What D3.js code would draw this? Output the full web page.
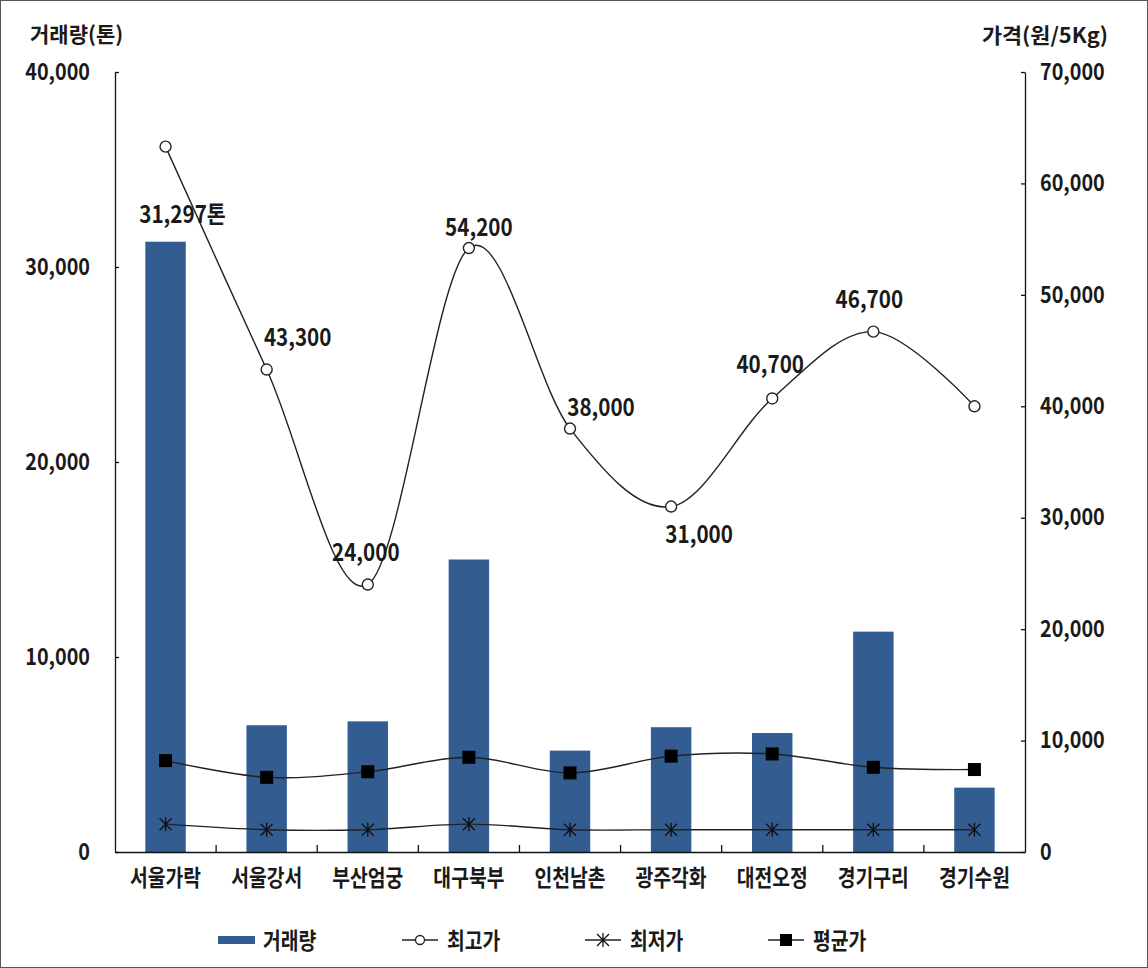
<!DOCTYPE html>
<html><head><meta charset="utf-8">
<script src="https://cdn.jsdelivr.net/npm/d3@7"></script>
<style>
html,body{margin:0;padding:0;background:#fff;}
text{font-family:"Noto Sans CJK KR","Noto Sans",sans-serif;font-weight:700;fill:#1a1a1a;}
</style></head>
<body>
<svg id="chart" width="1148" height="968"></svg>
<script>
// ---- data ----
const categories = ["서울가락","서울강서","부산엄궁","대구북부","인천남촌","광주각화","대전오정","경기구리","경기수원"];
const volume = [31297, 6500, 6700, 15000, 5200, 6400, 6100, 11300, 3300];
const maxPrice = [63300, 43300, 24000, 54200, 38000, 31000, 40700, 46700, 40000];
const minPrice = [2500, 2000, 2000, 2500, 2000, 2000, 2000, 2000, 2000];
const avgPrice = [8200, 6700, 7200, 8500, 7100, 8600, 8800, 7600, 7400];
const maxLabelShown = [false, true, true, true, true, true, true, true, false];
const volumeTicks = [0, 10000, 20000, 30000, 40000];
const priceTicks = [0, 10000, 20000, 30000, 40000, 50000, 60000, 70000];
const leftTitle = "거래량(톤)";
const rightTitle = "가격(원/5Kg)";
const legendNames = ["거래량", "최고가", "최저가", "평균가"];

// ---- layout (not data) ----
const labelNudge = [[0,0],[31,-34],[-2,-34],[10,-23],[31,-23],[28,26],[-2,-36],[-4,-34],[0,0]];
const barColor = "#335c90";

const svg = d3.select("#chart");
const L = 115, R = 1025, T = 72, B = 852;

function condense(sel, sx){
  sel.each(function(){
    const t = d3.select(this);
    const x = +t.attr("x") || 0, y = +t.attr("y") || 0;
    t.attr("x", null).attr("y", null)
     .attr("transform", `translate(${x},${y}) scale(${sx},1)`);
  });
}

svg.append("rect").attr("x",0.5).attr("y",0.5).attr("width",1147).attr("height",967)
  .attr("fill","#fff").attr("stroke","#555").attr("stroke-width",1);

const x = d3.scaleBand().domain(categories).range([L, R]).paddingInner(0.6).paddingOuter(0.3);
const yL = d3.scaleLinear().domain([0, 40000]).range([B, T]);
const yR = d3.scaleLinear().domain([0, 70000]).range([B, T]);
const cx = c => x(c) + x.bandwidth()/2;
const fmt = d3.format(",");

// bars
svg.append("g").selectAll("rect").data(categories).join("rect")
  .attr("x", d => x(d)).attr("width", x.bandwidth())
  .attr("y", (d,i) => yL(volume[i])).attr("height", (d,i) => B - yL(volume[i]))
  .attr("fill", barColor);

// axes
const axL = svg.append("g").attr("transform", `translate(${L},0)`)
  .call(d3.axisLeft(yL).tickValues(volumeTicks).tickFormat(fmt).tickSize(-4).tickSizeOuter(0).tickPadding(25));
const axR = svg.append("g").attr("transform", `translate(${R},0)`)
  .call(d3.axisRight(yR).tickValues(priceTicks).tickFormat(fmt).tickSize(-4).tickSizeOuter(0).tickPadding(15));
const axB = svg.append("g").attr("transform", `translate(0,${B})`)
  .call(d3.axisBottom(x).tickSize(0).tickSizeOuter(0));
[axL, axR, axB].forEach(a => {
  a.select(".domain").attr("stroke", "#111").attr("stroke-width", 1.3);
  a.selectAll(".tick line").attr("stroke", "#111").attr("stroke-width", 1.3);
  a.selectAll("text").attr("font-size", 23).attr("fill", "#1a1a1a").attr("font-family", null);
});
axL.selectAll("text").attr("dy", null).attr("y", -3).attr("dominant-baseline", "central");
axR.selectAll("text").attr("dy", null).attr("y", -3).attr("dominant-baseline", "central");
condense(axL.selectAll("text"), 0.86);
condense(axR.selectAll("text"), 0.86);
axB.selectAll("text").attr("dy", null).attr("y", 24).attr("dominant-baseline", "central");
condense(axB.selectAll("text"), 0.84);

// boundary ticks on category axis
const bounds = categories.slice(1).map(c => x(c) - x.step()*x.paddingInner()/2);
svg.append("g").selectAll("line").data(bounds).join("line")
  .attr("x1", d => d).attr("x2", d => d).attr("y1", B).attr("y2", B - 7)
  .attr("stroke", "#111").attr("stroke-width", 1.3);

// axis titles
svg.append("text").attr("x", 30).attr("y", 33).attr("dominant-baseline","central")
  .attr("font-size", 21).text(leftTitle).call(condense, 1.0);
svg.append("text").attr("x", 1108).attr("y", 34).attr("dominant-baseline","central")
  .attr("text-anchor","end").attr("font-size", 21).text(rightTitle).call(condense, 1.04);

// lines
const curve = d3.curveCardinal.tension(0);
function drawLine(vals){
  const line = d3.line().x((d,i) => cx(categories[i])).y(d => yR(d)).curve(curve);
  svg.append("path").datum(vals).attr("d", line)
    .attr("fill","none").attr("stroke","#222").attr("stroke-width",1.4);
}
drawLine(maxPrice);
drawLine(minPrice);
drawLine(avgPrice);

const star = "M0,-7L0,7M-6,-6L6,6M-6,6L6,-6";
// markers
svg.append("g").selectAll("circle").data(maxPrice).join("circle")
  .attr("cx", (d,i) => cx(categories[i])).attr("cy", d => yR(d)).attr("r", 5.5)
  .attr("fill","#fff").attr("stroke","#222").attr("stroke-width",1.4);
svg.append("g").selectAll("path").data(minPrice).join("path")
  .attr("transform", (d,i) => `translate(${cx(categories[i])},${yR(d)})`)
  .attr("d", star).attr("stroke","#111").attr("stroke-width",1.4).attr("fill","none");
svg.append("g").selectAll("rect").data(avgPrice).join("rect")
  .attr("x", (d,i) => cx(categories[i]) - 6.5).attr("y", d => yR(d) - 6.5)
  .attr("width", 13).attr("height", 13).attr("fill","#000");

// data labels
svg.append("g").selectAll("text").data(maxPrice.map((v,i)=>({v,i})).filter(d => maxLabelShown[d.i])).join("text")
  .attr("x", d => cx(categories[d.i]) + labelNudge[d.i][0])
  .attr("y", d => yR(d.v) + labelNudge[d.i][1])
  .attr("text-anchor","middle").attr("dominant-baseline","central")
  .attr("font-size", 24).text(d => fmt(d.v))
  .call(condense, 0.86);
svg.append("text")
  .attr("x", cx(categories[0]) + 17).attr("y", yL(volume[0]) - 29)
  .attr("text-anchor","middle").attr("dominant-baseline","central")
  .attr("font-size", 24).text(fmt(volume[0]) + "톤")
  .call(condense, 0.86);

// legend
const legX = [218, 402, 585, 768];
const legY = 940;
const lg = svg.append("g");
legendNames.forEach((name, k) => {
  const g = lg.append("g").attr("transform", `translate(${legX[k]},${legY})`);
  if (k === 0) {
    g.append("rect").attr("x",0).attr("y",-4).attr("width",37).attr("height",8).attr("fill",barColor);
  } else {
    g.append("line").attr("x1",0).attr("x2",36).attr("y1",0).attr("y2",0)
      .attr("stroke","#222").attr("stroke-width",1.5);
    if (k === 1) g.append("circle").attr("cx",18).attr("cy",0).attr("r",4.5)
      .attr("fill","#fff").attr("stroke","#222").attr("stroke-width",1.3);
    if (k === 2) g.append("path").attr("transform","translate(18,0)").attr("d",star)
      .attr("stroke","#111").attr("stroke-width",1.3).attr("fill","none");
    if (k === 3) g.append("rect").attr("x",12).attr("y",-6).attr("width",12).attr("height",12).attr("fill","#000");
  }
  g.append("text").attr("x", 45).attr("y", -1).attr("dominant-baseline","central")
    .attr("font-size", 23).text(name).call(condense, 0.84);
});
</script>
</body></html>
